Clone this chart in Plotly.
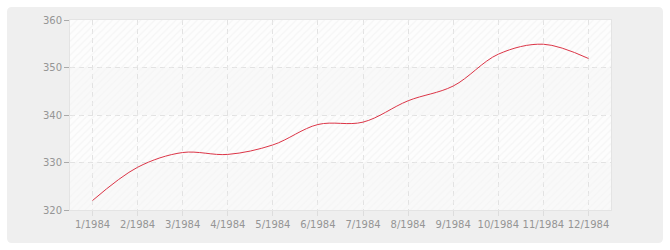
import plotly.graph_objects as go

months = ["1/1984", "2/1984", "3/1984", "4/1984", "5/1984", "6/1984",
          "7/1984", "8/1984", "9/1984", "10/1984", "11/1984", "12/1984"]
values = [322, 329, 332.1, 331.7, 333.7, 338.0, 338.5, 343.0, 346.1, 352.8, 354.9, 351.9]
y_ticks = [320, 330, 340, 350, 360]

W, H = 670, 250
L, R, T, B = 70, 59, 20, 40
pw, ph = W - L - R, H - T - B

def px_x(p):
    return (p - L) / pw

def px_y(p):
    return (H - B - p) / ph

# rounded outer panel path in paper coords
x0, x1, y0, y1, r = 7, 663, 7, 243, 5
def P(x, y):
    return f"{px_x(x):.5f},{px_y(y):.5f}"
panel = (f"M {P(x0 + r, y0)} L {P(x1 - r, y0)} Q {P(x1, y0)} {P(x1, y0 + r)} "
         f"L {P(x1, y1 - r)} Q {P(x1, y1)} {P(x1 - r, y1)} "
         f"L {P(x0 + r, y1)} Q {P(x0, y1)} {P(x0, y1 - r)} "
         f"L {P(x0, y0 + r)} Q {P(x0, y0)} {P(x0 + r, y0)} Z")

shapes = [dict(type="path", path=panel, xref="paper", yref="paper",
               fillcolor="#efefef", line=dict(width=0), layer="below")]
band_lo = y_ticks[:-1]
band_fill = ["#f9f9f9" if i % 2 == 0 else "#fdfdfd" for i in range(len(band_lo))]
band_hatch = ["#f1f1f1" if i % 2 == 0 else "#eeeeee" for i in range(len(band_lo))]
for lo, hi, c in zip(y_ticks[:-1], y_ticks[1:], band_fill):
    shapes.append(dict(type="rect", xref="paper", yref="y", x0=0, x1=1, y0=lo, y1=hi,
                       fillcolor=c, line=dict(width=0), layer="below"))

xs = list(range(len(months)))
fig = go.Figure()
fig.add_trace(go.Bar(
    x=[(len(months) - 1) / 2] * len(band_lo), y=[b - a for a, b in zip(y_ticks[:-1], y_ticks[1:])],
    base=band_lo, width=len(months),
    marker=dict(color="rgba(0,0,0,0)", line=dict(width=0),
                pattern=dict(shape="/", fgcolor=band_hatch, bgcolor="rgba(0,0,0,0)",
                             size=5, solidity=0.25)),
    hoverinfo="skip", showlegend=False))
fig.add_trace(go.Scatter(
    x=xs, y=values, mode="lines",
    line=dict(color="#dc3547", width=1, shape="spline", smoothing=1.0),
    showlegend=False))

fig.update_layout(
    width=W, height=H, margin=dict(l=L, r=R, t=T, b=B),
    paper_bgcolor="white", plot_bgcolor="rgba(0,0,0,0)",
    barmode="overlay", bargap=0,
    shapes=shapes,
    font=dict(family="DejaVu Sans, sans-serif", size=10, color="#959595"),
    xaxis=dict(range=[-0.5, len(months) - 0.5], tickvals=xs, ticktext=months,
               showgrid=True, gridcolor="#e2e2e2", griddash="5px,4px", gridwidth=1,
               ticks="outside", ticklen=5, tickcolor="#dddddd",
               showline=True, linecolor="#e4e4e4", linewidth=1, mirror=True,
               zeroline=False, fixedrange=True),
    yaxis=dict(range=[y_ticks[0], y_ticks[-1]], tickvals=y_ticks,
               showgrid=True, gridcolor="#e2e2e2", griddash="5px,4px", gridwidth=1,
               ticks="outside", ticklen=5, tickcolor="#aaaaaa",
               showline=True, linecolor="#e4e4e4", linewidth=1, mirror=True,
               zeroline=False, fixedrange=True),
)
fig.write_html("out.html")
